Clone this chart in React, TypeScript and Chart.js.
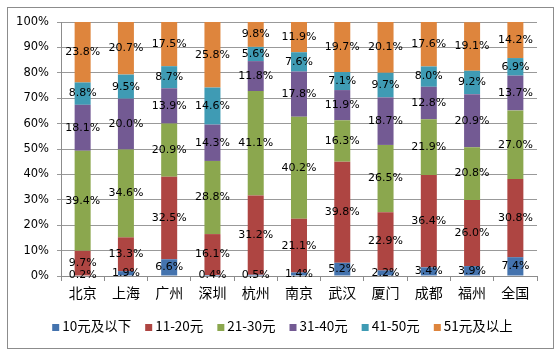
import React, { useEffect, useRef } from "react";
import { Chart, registerables } from "chart.js";

Chart.register(...registerables);

const categories = ["北京", "上海", "广州", "深圳", "杭州", "南京", "武汉", "厦门", "成都", "福州", "全国"];
const seriesNames = ["10元及以下", "11-20元", "21-30元", "31-40元", "41-50元", "51元及以上"];
const s10 = [0.2, 1.9, 6.6, 0.4, 0.5, 1.4, 5.2, 2.2, 3.4, 3.9, 7.4];
const s20 = [9.7, 13.3, 32.5, 16.1, 31.2, 21.1, 39.8, 22.9, 36.4, 26.0, 30.8];
const s30 = [39.4, 34.6, 20.9, 28.8, 41.1, 40.2, 16.3, 26.5, 21.9, 20.8, 27.0];
const s40 = [18.1, 20.0, 13.9, 14.3, 11.8, 17.8, 11.9, 18.7, 12.8, 20.9, 13.7];
const s50 = [8.8, 9.5, 8.7, 14.6, 5.6, 7.6, 7.1, 9.7, 8.0, 9.2, 6.9];
const s51 = [23.8, 20.7, 17.5, 25.8, 9.8, 11.9, 19.7, 20.1, 17.6, 19.1, 14.2];
const seriesValues = [s10, s20, s30, s40, s50, s51];
const colors = ["#4473AE", "#AE4542", "#8BA74E", "#735A93", "#3F9BB4", "#DE853D"];
const yTicks = [0, 10, 20, 30, 40, 50, 60, 70, 80, 90, 100];

const NUM_FONT = "'DejaVu Sans', 'Noto Sans CJK SC', sans-serif";
const CJK_FONT = "'Noto Sans CJK SC', 'DejaVu Sans', sans-serif";

const labelPlugin = {
  id: "segLabels",
  afterDatasetsDraw(chart: any) {
    const ctx = chart.ctx;
    ctx.save();
    ctx.font = "11px " + NUM_FONT;
    ctx.fillStyle = "#000";
    ctx.textAlign = "center";
    ctx.textBaseline = "middle";
    chart.data.datasets.forEach((ds: any, di: number) => {
      const meta = chart.getDatasetMeta(di);
      meta.data.forEach((el: any, i: number) => {
        const p = el.getProps(["x", "y", "base"], true);
        const cy = (p.y + p.base) / 2;
        ctx.fillText(Number(ds.data[i]).toFixed(1) + "%", p.x, cy);
      });
    });
    ctx.restore();
  },
};

const framePlugin = {
  id: "frameLegend",
  beforeDraw(chart: any) {
    const ctx = chart.ctx;
    ctx.save();
    ctx.fillStyle = "#fff";
    ctx.fillRect(0, 0, chart.width, chart.height);
    ctx.restore();
  },
  afterDraw(chart: any) {
    const ctx = chart.ctx;
    ctx.save();
    ctx.strokeStyle = "#8c8c8c";
    ctx.lineWidth = 1;
    ctx.strokeRect(7.5, 7.5, 546, 341);
    // legend
    ctx.font = "13.5px " + CJK_FONT;
    ctx.textBaseline = "middle";
    ctx.textAlign = "left";
    const box = 7;
    const gap = 3;
    const spacing = 14;
    const widths = seriesNames.map((n) => ctx.measureText(n).width);
    const total = widths.reduce((a, w) => a + box + gap + w, 0) + spacing * (seriesNames.length - 1);
    let x = 282.5 - total / 2;
    const cy = 326;
    seriesNames.forEach((n, i) => {
      ctx.fillStyle = colors[i];
      ctx.fillRect(x, cy - 2, box, box);
      ctx.fillStyle = "#000";
      ctx.fillText(n, x + box + gap, cy);
      x += box + gap + widths[i] + spacing;
    });
    ctx.restore();
  },
};

export default function App() {
  const ref = useRef<HTMLCanvasElement | null>(null);
  useEffect(() => {
    if (!ref.current) return;
    const chart = new Chart(ref.current, {
      type: "bar",
      data: {
        labels: categories,
        datasets: seriesValues.map((vals, i) => ({
          label: seriesNames[i],
          data: vals,
          backgroundColor: colors[i],
          borderWidth: 0,
          barPercentage: 0.37,
          categoryPercentage: 1,
          stack: "s",
        })),
      },
      options: {
        responsive: false,
        animation: false,
        layout: { padding: { left: 0, right: 22, top: 22, bottom: 50 } },
        plugins: { legend: { display: false }, tooltip: { enabled: false } },
        scales: {
          x: {
            stacked: true,
            border: { color: "#8c8c8c" },
            grid: { drawOnChartArea: false, drawTicks: true, tickLength: 5, color: "#8c8c8c", offset: true },
            ticks: { color: "#000", font: { size: 14, family: CJK_FONT }, padding: 3, maxRotation: 0 },
            afterFit(scale: any) {
              scale.height = 30;
            },
          },
          y: {
            stacked: true,
            min: 0,
            max: 100,
            border: { color: "#8c8c8c" },
            grid: { color: "#999999", tickLength: 4 },
            afterBuildTicks(scale: any) {
              scale.ticks = yTicks.map((v) => ({ value: v }));
            },
            ticks: {
              color: "#000",
              font: { size: 11.5, family: NUM_FONT },
              padding: 8,
              callback: (v: any) => v + "%",
            },
            afterFit(scale: any) {
              scale.width = 61;
            },
          },
        },
      },
      plugins: [labelPlugin, framePlugin],
    });
    return () => chart.destroy();
  }, []);
  return (
    <div style={{ position: "fixed", left: 0, top: 0, width: 559, height: 356, background: "#fff" }}>
      <canvas ref={ref} width={559} height={356} />
    </div>
  );
}
